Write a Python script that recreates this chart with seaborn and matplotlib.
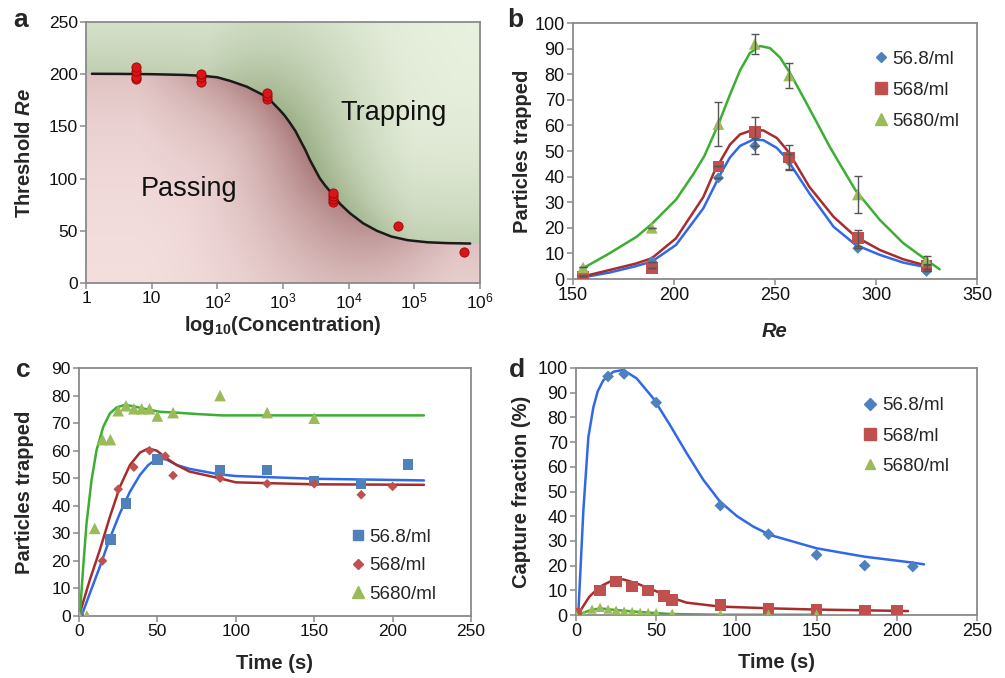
import numpy as np
import matplotlib
matplotlib.use("Agg")
import matplotlib.pyplot as plt
from matplotlib.lines import Line2D
import seaborn as sns

# ---------------- data ----------------
# Panel a
conc_a = [5.68, 5.68, 5.68, 5.68, 56.8, 56.8, 56.8, 568, 568, 568,
          5680, 5680, 5680, 5680, 56800, 568000]
re_a = [195, 197, 203, 207, 192.5, 197, 200, 176, 179, 182,
        77.5, 80.5, 83.5, 86.5, 55, 29.5]
fit_a_logc = [0.09, 0.5, 1.0, 1.5, 1.8, 2.0, 2.2, 2.45, 2.7, 2.83, 2.95, 3.03, 3.11, 3.19,
              3.26, 3.34, 3.41, 3.49, 3.56, 3.64, 3.72, 3.87, 4.02, 4.22, 4.43, 4.65, 4.9,
              5.2, 5.5, 5.85]
fit_a_re = [200.4, 200.3, 200, 199.3, 198.3, 197, 193.5, 188, 180, 173.5, 165.7, 160, 153,
            145.5, 137, 127.5, 117.8, 108.5, 100.3, 93.5, 87.5, 75.7, 66.8, 57.2, 50, 44.5,
            41, 39, 38.2, 37.8]

# Panel b
re_b = [155, 189, 222, 240, 257, 291, 325]
b_56 = [1, 6.8, 39.5, 52, 46, 12, 3]
b_568 = [1, 4.2, 44, 57.5, 47.5, 16, 5]
b_5680 = [4.5, 20, 60.5, 91.8, 79.5, 33, 7.2]
err_56 = [0, 0, 0, 3.2, 3, 0, 0]
err_568 = [0, 0, 0, 5.6, 5, 3.3, 1]
err_5680 = [0, 0, 8.5, 3.8, 4.8, 7.2, 1.6]
fitb_x_5680 = [155, 168, 181.5, 189, 201, 209.6, 215, 222, 227.7, 232.7, 237.6, 242.6,
               247.5, 252.5, 257.4, 264, 270.6, 277.2, 281.3, 290, 302, 313.5, 325, 331.5]
fitb_y_5680 = [4.2, 10, 16.5, 21.5, 31, 41, 48, 60.5, 72, 81.5, 88.3, 91,
               90.2, 86.5, 80.5, 71, 61.3, 51.5, 46, 34.5, 23, 14, 7.4, 3.8]
fitb_x_568 = [155, 168, 181, 189, 201, 214.5, 220, 227.7, 232.7, 239.3, 244.3, 250.9,
              255.8, 259.1, 267, 279, 290, 302, 313.5, 325]
fitb_y_568 = [1, 3.5, 6, 8.1, 15.9, 32, 42, 52.5, 56.5, 58.3, 58, 55.1,
              50.5, 46.5, 36, 24.3, 16.5, 11.3, 7.7, 5.2]
fitb_x_56 = [156, 168, 181, 189, 201, 214.5, 223, 227.7, 232.7, 239.3, 244.3, 250.9,
             255.8, 267, 279, 290, 302, 313.5, 325]
fitb_y_56 = [0.8, 2.5, 5, 6.8, 13.3, 27.6, 41, 47.5, 52, 54.5, 54.2, 51.2,
             47, 33.5, 20.4, 13.3, 9.4, 6.4, 4.6]

# Panel c
c_t56 = [0, 20, 30, 50, 90, 120, 150, 180, 210]
c_56 = [0, 27.8, 40.8, 56.8, 52.8, 52.9, 49, 48, 55]
c_t568 = [0, 15, 25, 35, 45, 55, 60, 90, 120, 150, 180, 200]
c_568 = [0, 20, 46, 54, 60, 58, 51, 50, 48, 48, 44, 47]
c_t5680 = [0, 5, 10, 15, 20, 25, 30, 35, 40, 45, 50, 60, 90, 120, 150]
c_5680 = [0, 0, 31.8, 64, 64, 74.5, 76.3, 75.2, 75.2, 75.2, 72.6, 73.8, 80, 73.8, 71.8]
fitc_x_5680 = [0.5, 2.7, 4.8, 8.0, 11.2, 15.5, 19.7, 24, 29.3, 35.7, 43.2, 51.7, 62.3,
               75, 91, 150, 220]
fitc_y_5680 = [0, 17.9, 33.6, 49.3, 60.2, 68.7, 73.5, 75.7, 76.6, 76, 75, 74.1, 73.8,
               73.3, 72.8, 72.8, 72.8]
fitc_x_568 = [0, 6.9, 13.3, 19.7, 26.1, 32.5, 38.9, 44.2, 49.6, 55.9, 62.3, 70.5, 89.5,
              100, 150, 220]
fitc_y_568 = [0, 13.1, 24, 36, 46.9, 54.8, 59.3, 60.8, 60, 57.2, 54.8, 52.4, 50,
              48.5, 47.8, 47.6]
fitc_x_56 = [1.6, 6.9, 13.3, 19.7, 26.1, 32.5, 38.9, 44.2, 49.6, 55.4, 62.3, 70.5, 89.5,
             100, 150, 220]
fitc_y_56 = [0, 8.2, 17.9, 28.2, 37.3, 45.1, 51.2, 54.8, 57, 56.9, 54.8, 53.4, 51.4,
             50.8, 49.8, 49.2]

# Panel d
d_t56 = [20, 30, 50, 90, 120, 150, 180, 210]
d_56 = [96.6, 97.6, 86, 44.3, 32.7, 24.3, 20, 19.6]
d_t568 = [0, 15, 25, 35, 45, 55, 60, 90, 120, 150, 180, 200]
d_568 = [0.5, 9.9, 13.5, 11.5, 9.9, 7.7, 6.1, 4, 2.7, 2.3, 1.6, 1.6]
d_t5680 = [0, 5, 10, 15, 20, 25, 30, 35, 40, 45, 50, 60, 90, 120, 150]
d_5680 = [0, 0, 2.4, 3.1, 2.4, 2, 1.6, 1.4, 1.1, 1, 1, 0.7, 0.3, 0.3, 0.3]
fitd_x_56 = [1.4, 4.6, 7.7, 10.8, 13.5, 17, 23.3, 29.5, 37.8, 48.2, 58.6, 69, 79.4, 89.8,
             100.2, 110.5, 121, 150, 180, 210, 217]
fitd_y_56 = [0, 42.5, 72, 84, 90.5, 95, 98.5, 99.2, 95.8, 87.7, 76.9, 65.5, 54.7, 45.9,
             40.1, 35.8, 32.4, 27, 23.6, 21.2, 20.5]
fitd_x_568 = [1, 8.3, 15, 23.3, 29.5, 37.8, 48.2, 58.6, 69, 89.8, 121, 150, 180, 207]
fitd_y_568 = [0, 7.4, 11.5, 14.2, 14.4, 12.8, 10.1, 7.2, 5, 3.4, 2.7, 2.2, 1.9, 1.6]
fitd_x_5680 = [1, 8.3, 15, 23.3, 37.8, 58.6, 90, 150]
fitd_y_5680 = [0, 1.8, 2.7, 2.1, 1.3, 0.4, 0.1, 0.1]

labels = ["56.8/ml", "568/ml", "5680/ml"]

# ---------------- style ----------------
sns.set_style("white")
plt.rcParams["font.family"] = ["Liberation Sans", "DejaVu Sans"]
plt.rcParams["mathtext.fontset"] = "custom"
plt.rcParams["mathtext.rm"] = "Liberation Sans"
plt.rcParams["mathtext.it"] = "Liberation Sans:italic:bold"
plt.rcParams["mathtext.bf"] = "Liberation Sans:bold"
plt.rcParams["mathtext.default"] = "regular"

MB, MR, MG = "#4F81BD", "#C0504D", "#9BBB59"
LB, LR, LG = "#3069E8", "#A82C2C", "#3CAE32"
SPINE = "#8a8a8a"
LAB_FS = 14.5
LEG_FS = 13.5

W, H = 1005, 678
fig = plt.figure(figsize=(W / 100, H / 100), dpi=100)


def pos(l, t, r, b):
    return [l / W, 1 - b / H, (r - l) / W, (b - t) / H]


def style_ax(ax, fs):
    for s in ax.spines.values():
        s.set_color(SPINE)
        s.set_linewidth(1.3)
        s.set_visible(True)
    ax.tick_params(axis="both", which="major", direction="out", length=4, width=1.1,
                   color=SPINE, labelsize=fs, pad=2, left=True, bottom=True,
                   labelcolor="#111111")
    ax.tick_params(which="minor", left=False, bottom=False)


# ---------------- panel a ----------------
pa = pos(86, 22, 480, 283)
bg = fig.add_axes(pa, zorder=0)
bg.set_axis_off()
nx, ny = 394, 261
u = (np.arange(nx) + 0.5) / nx * 6.0          # log10 concentration
v = (np.arange(ny) + 0.5) / ny * 250.0        # Re
U, V = np.meshgrid(u, v)
bound = np.interp(U, fit_a_logc, fit_a_re)
above = V > bound
cs_x = np.linspace(-0.5, 6.5, 300)
cs_y = np.interp(cs_x, fit_a_logc, fit_a_re)
px = U[..., None] / 6.0 * nx
py = V[..., None] / 250.0 * ny
d = np.sqrt((px - cs_x[None, None, :] / 6.0 * nx) ** 2 +
            (py - cs_y[None, None, :] / 250.0 * ny) ** 2).min(axis=2)
k_p = np.exp(-d / 70.0) * np.clip(np.exp(-((U - 3.2) / 2.2) ** 2), 0.3, 1.0)
k_g = np.exp(-d / 75.0) * np.clip(np.exp(-((U - 3.4) / 2.0) ** 2), 0.55, 1.0)
pink_light = np.array([245, 223, 223]) / 255
pink_dark = np.array([170, 122, 122]) / 255
green_light = np.array([235, 243, 226]) / 255
green_dark = np.array([156, 176, 136]) / 255
img = np.where(above[..., None],
               green_light + (green_dark - green_light) * k_g[..., None],
               pink_light + (pink_dark - pink_light) * k_p[..., None])
bg.imshow(img, origin="lower", extent=[0, 1, 0, 1], aspect="auto",
          interpolation="bilinear")
bg.set_xlim(0, 1)
bg.set_ylim(0, 1)

axa = fig.add_axes(pa, zorder=1)
axa.patch.set_alpha(0)
fit_a_conc = [10 ** L for L in fit_a_logc]
sns.lineplot(x=fit_a_conc, y=fit_a_re, color="#1a1a1a", lw=1.8, ax=axa,
             estimator=None, sort=False, zorder=2)
sns.scatterplot(x=conc_a, y=re_a, color="#D9151B", edgecolor="#A00000", linewidth=0.6,
                s=44, ax=axa, zorder=3)
axa.set_xscale("log")
axa.set_xlim(1, 1e6)
axa.set_ylim(0, 250)
axa.set_xticks([1, 10, 100, 1e3, 1e4, 1e5, 1e6])
axa.set_xticklabels(["1", "10", "10$^{2}$", "10$^{3}$", "10$^{4}$", "10$^{5}$", "10$^{6}$"])
axa.set_yticks(range(0, 251, 50))
axa.xaxis.set_minor_locator(matplotlib.ticker.NullLocator())
style_ax(axa, 12.5)
axa.set_xlabel("log$_{10}$(Concentration)", fontsize=LAB_FS, fontweight="bold")
axa.set_ylabel(r"Threshold $\mathit{Re}$", fontsize=LAB_FS, fontweight="bold")
axa.xaxis.set_label_coords(0.5, -0.161)
axa.xaxis.label.set_va("center")
axa.yaxis.set_label_coords(-0.157, 0.5)
axa.yaxis.label.set_va("center")
axa.text(10 ** 1.57, 90, "Passing", fontsize=19.5, ha="center", va="center", color="#111111")
axa.text(10 ** 4.68, 163, "Trapping", fontsize=19.5, ha="center", va="center", color="#111111")

# ---------------- panel b ----------------
axb = fig.add_axes(pos(573, 23, 977, 279))
for fx, fy, c in [(fitb_x_56, fitb_y_56, LB), (fitb_x_568, fitb_y_568, LR),
                  (fitb_x_5680, fitb_y_5680, LG)]:
    sns.lineplot(x=fx, y=fy, color=c, lw=1.8, ax=axb, estimator=None, zorder=2)
for ys, es in [(b_56, err_56), (b_568, err_568), (b_5680, err_5680)]:
    axb.errorbar(re_b, ys, yerr=es, fmt="none", ecolor="#555555", elinewidth=1.0,
                 capsize=3, capthick=1.0, zorder=4)
sns.scatterplot(x=re_b, y=b_56, marker="D", s=32, color=MB, edgecolor="none", ax=axb, zorder=3)
sns.scatterplot(x=re_b, y=b_568, marker="s", s=70, color=MR, edgecolor="none", ax=axb, zorder=3)
sns.scatterplot(x=re_b, y=b_5680, marker="^", s=70, color=MG, edgecolor="none", ax=axb, zorder=3)
axb.set_xlim(150, 350)
axb.set_ylim(0, 100)
axb.set_xticks(range(150, 351, 50))
axb.set_yticks(range(0, 101, 10))
style_ax(axb, 13)
axb.set_xlabel("Re", fontsize=LAB_FS, fontweight="bold", fontstyle="italic")
axb.set_ylabel("Particles trapped", fontsize=LAB_FS, fontweight="bold")
axb.xaxis.set_label_coords(0.5, -0.207)
axb.xaxis.label.set_va("center")
axb.yaxis.set_label_coords(-0.126, 0.5)
axb.yaxis.label.set_va("center")
hb = [Line2D([], [], ls="", marker="D", ms=5.5, color=MB),
      Line2D([], [], ls="", marker="s", ms=8, color=MR),
      Line2D([], [], ls="", marker="^", ms=8, color=MG)]
axb.legend(hb, labels, loc="upper left", bbox_to_anchor=(0.745, 0.893), frameon=False,
           fontsize=LEG_FS, handlelength=0.7, handletextpad=0.25, labelspacing=0.74,
           borderpad=0, borderaxespad=0)

# ---------------- panel c ----------------
axc = fig.add_axes(pos(79, 368, 471, 616))
for fx, fy, c in [(fitc_x_56, fitc_y_56, LB), (fitc_x_568, fitc_y_568, LR),
                  (fitc_x_5680, fitc_y_5680, LG)]:
    sns.lineplot(x=fx, y=fy, color=c, lw=1.8, ax=axc, estimator=None, zorder=2)
sns.scatterplot(x=c_t56, y=c_56, marker="s", s=55, color=MB, edgecolor="none", ax=axc, zorder=3)
sns.scatterplot(x=c_t568, y=c_568, marker="D", s=24, color=MR, edgecolor="none", ax=axc, zorder=3)
sns.scatterplot(x=c_t5680, y=c_5680, marker="^", s=70, color=MG, edgecolor="none", ax=axc, zorder=3)
axc.set_xlim(0, 250)
axc.set_ylim(0, 90)
axc.set_xticks(range(0, 251, 50))
axc.set_yticks(range(0, 91, 10))
style_ax(axc, 12.5)
axc.set_xlabel("Time (s)", fontsize=LAB_FS, fontweight="bold")
axc.set_ylabel("Particles trapped", fontsize=LAB_FS, fontweight="bold")
axc.xaxis.set_label_coords(0.5, -0.19)
axc.xaxis.label.set_va("center")
axc.yaxis.set_label_coords(-0.138, 0.5)
axc.yaxis.label.set_va("center")
hc = [Line2D([], [], ls="", marker="s", ms=7, color=MB),
      Line2D([], [], ls="", marker="D", ms=5, color=MR),
      Line2D([], [], ls="", marker="^", ms=8, color=MG)]
axc.legend(hc, labels, loc="upper left", bbox_to_anchor=(0.695, 0.352), frameon=False,
           fontsize=LEG_FS, handlelength=0.7, handletextpad=0.25, labelspacing=0.6,
           borderpad=0, borderaxespad=0)

# ---------------- panel d ----------------
axd = fig.add_axes(pos(576, 368, 977, 615))
for fx, fy, c in [(fitd_x_56, fitd_y_56, LB), (fitd_x_568, fitd_y_568, LR),
                  (fitd_x_5680, fitd_y_5680, LG)]:
    sns.lineplot(x=fx, y=fy, color=c, lw=1.8, ax=axd, estimator=None, zorder=2)
sns.scatterplot(x=d_t56, y=d_56, marker="D", s=36, color=MB, edgecolor="none", ax=axd, zorder=3)
sns.scatterplot(x=d_t568, y=d_568, marker="s", s=70, color=MR, edgecolor="none", ax=axd, zorder=3)
sns.scatterplot(x=d_t5680, y=d_5680, marker="^", s=45, color=MG, edgecolor="none", ax=axd, zorder=3)
axd.set_xlim(0, 250)
axd.set_ylim(0, 100)
axd.set_xticks(range(0, 251, 50))
axd.set_yticks(range(0, 101, 10))
style_ax(axd, 13)
axd.set_xlabel("Time (s)", fontsize=LAB_FS, fontweight="bold")
axd.set_ylabel("Capture fraction (%)", fontsize=LAB_FS, fontweight="bold")
axd.xaxis.set_label_coords(0.5, -0.194)
axd.xaxis.label.set_va("center")
axd.yaxis.set_label_coords(-0.135, 0.5)
axd.yaxis.label.set_va("center")
hd = [Line2D([], [], ls="", marker="D", ms=6, color=MB),
      Line2D([], [], ls="", marker="s", ms=8, color=MR),
      Line2D([], [], ls="", marker="^", ms=7, color=MG)]
axd.legend(hd, labels, loc="upper left", bbox_to_anchor=(0.718, 0.882), frameon=False,
           fontsize=LEG_FS, handlelength=0.7, handletextpad=0.25, labelspacing=0.7,
           borderpad=0, borderaxespad=0)

# panel letters
for lab, x, y in [("a", 13, 27), ("b", 507, 27), ("c", 16, 377), ("d", 509, 377)]:
    fig.text(x / W, 1 - y / H, lab, fontsize=19, fontweight="bold", ha="left", va="baseline")

fig.savefig("out.png", dpi=100)
